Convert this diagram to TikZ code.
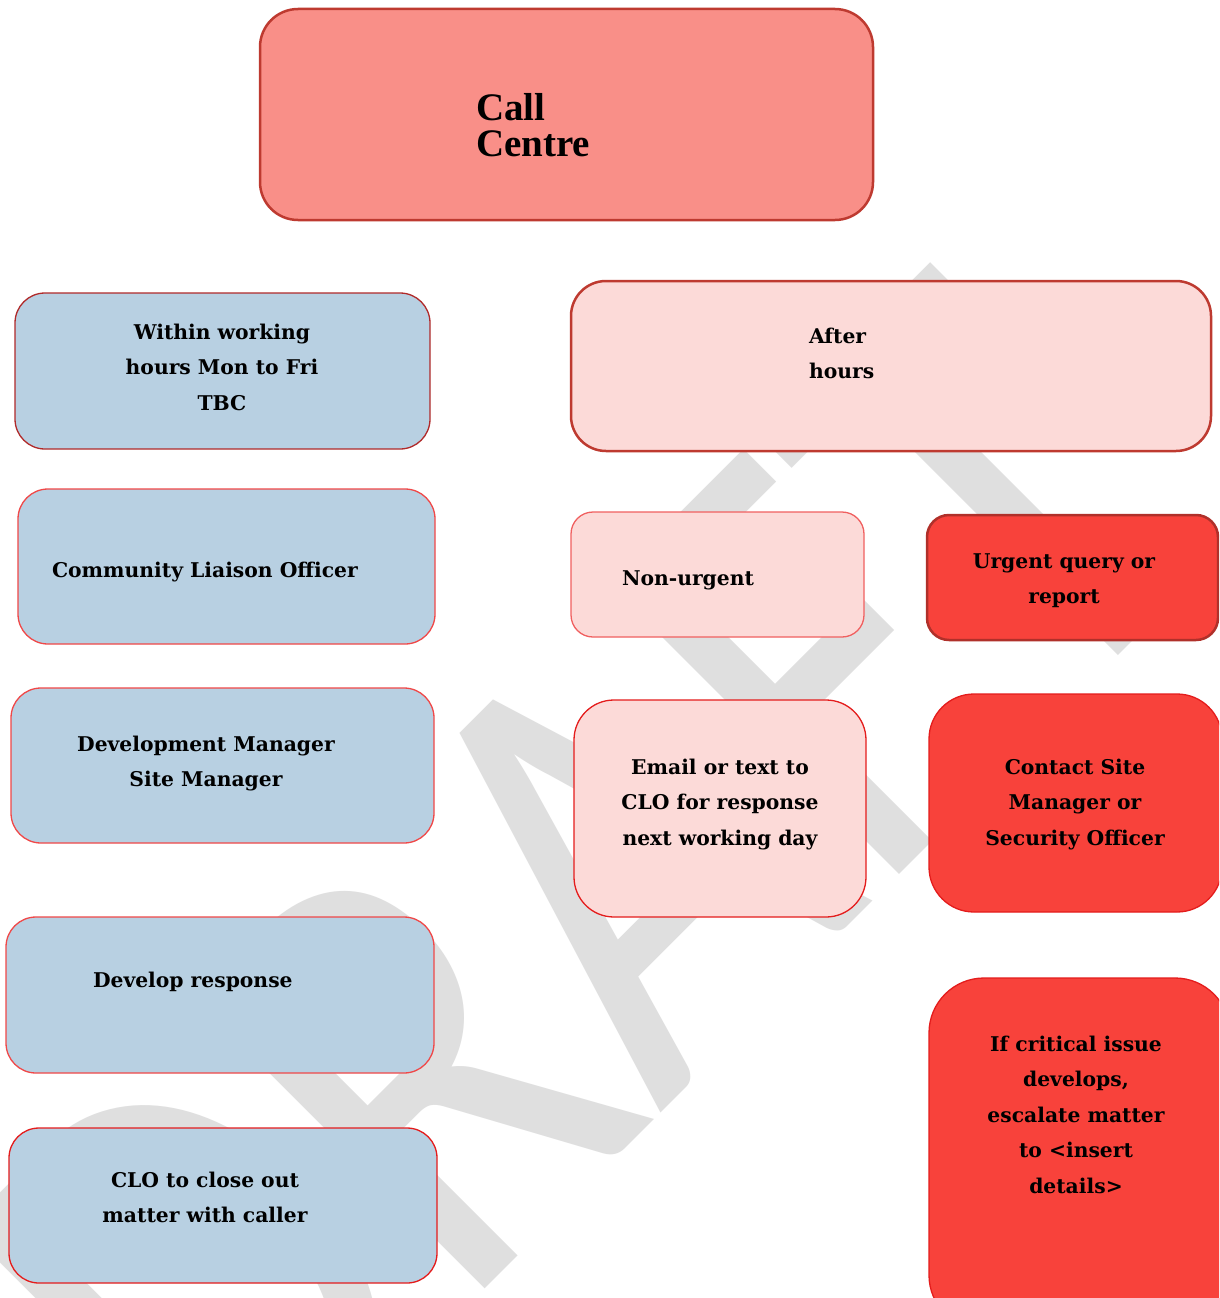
\documentclass[tikz,border=0pt]{standalone}
\usepackage{fontspec}
\setmainfont{DejaVu Serif}
\newfontfamily\wmfont{Carlito}
\newfontfamily\ccfont{Liberation Serif}
\definecolor{ccfill}{HTML}{F98F88}
\definecolor{ccdraw}{HTML}{BE3A30}
\definecolor{bluefill}{HTML}{B8D0E2}
\definecolor{redthin}{HTML}{F04848}
\definecolor{darkthin}{HTML}{B02A2A}
\definecolor{pinkfill}{HTML}{FCDAD8}
\definecolor{pinkthin}{HTML}{F06060}
\definecolor{redfill}{HTML}{F8423B}
\definecolor{reddark}{HTML}{B0302A}
\definecolor{redline}{HTML}{E41C1C}
\definecolor{wmgrey}{HTML}{DFDFDF}
\newcommand\Lc[1]{\begin{tabular}[t]{@{}c@{}}#1\end{tabular}}
\newcommand\Ll[1]{\begin{tabular}[t]{@{}l@{}}#1\end{tabular}}
\begin{document}
\begin{tikzpicture}[x=1pt,y=-1pt,
  box/.style={rectangle, inner sep=0pt, outer sep=0pt},
  ccbox/.style={box, fill=ccfill, draw=ccdraw, line width=2.5pt, rounded corners=38pt},
  bluebox/.style={box, fill=bluefill, draw=redthin, line width=1.3pt, rounded corners=30pt},
  pinkbox/.style={box, fill=pinkfill, draw=pinkthin, line width=1.3pt, rounded corners=22pt},
  redbox/.style={box, fill=redfill, draw=redline, line width=1.3pt, rounded corners=45pt},
  txt/.style={inner sep=0pt, outer sep=0pt, anchor=base, font=\bfseries\fontsize{20.3}{35.5}\selectfont},
  txtl/.style={txt, anchor=base west},
  wm/.style={inner sep=0pt, outer sep=0pt, anchor=base, text=wmgrey, font=\wmfont\fontsize{640}{640}\selectfont}
]
\useasboundingbox (0,0) rectangle (1219,1298);
\fill[white] (0,0) rectangle (1219,1298);
\begin{scope}
\clip (0,0) rectangle (1219,1298);
% watermark
\node[wm, rotate=45, xscale=0.82] (wmk) at (728,1046) {DRAFT};
% call centre
\node[ccbox, minimum width=613pt, minimum height=211pt] (callc) at (566.5,114.5) {};
\node[txtl, font=\ccfont\bfseries\fontsize{39}{36}\selectfont] (callct) at (476,120) {\Ll{Call\\Centre}};
% left column
\node[bluebox, draw=darkthin, minimum width=415pt, minimum height=156pt] (within) at (222.5,371) {};
\node[txt] (withint) at (222,339) {\Lc{Within working\\hours Mon to Fri\\TBC}};
\node[bluebox, minimum width=417pt, minimum height=155pt] (clo) at (226.5,566.5) {};
\node[txtl] (clot) at (52,577) {Community Liaison Officer};
\node[bluebox, minimum width=423pt, minimum height=155pt] (devm) at (222.5,765.5) {};
\node[txt] (devmt) at (206,751) {\Lc{Development Manager\\Site Manager}};
\node[bluebox, minimum width=428pt, minimum height=156pt] (devr) at (220,995) {};
\node[txtl] (devrt) at (93,987) {Develop response};
\node[bluebox, draw=redline, minimum width=428pt, minimum height=155pt] (close) at (223,1205.5) {};
\node[txt] (closet) at (205,1187) {\Lc{CLO to close out\\matter with caller}};
% right side
\node[pinkbox, draw=ccdraw, line width=2.5pt, rounded corners=35pt, minimum width=640pt, minimum height=170pt] (after) at (891,366) {};
\node[txtl] (aftert) at (809,343) {\Ll{After\\hours}};
\node[pinkbox, minimum width=293pt, minimum height=125pt] (nonurg) at (717.5,574.5) {};
\node[txtl] (nonurgt) at (622,585) {Non-urgent};
\node[redbox, draw=reddark, line width=2.5pt, rounded corners=22pt, minimum width=291pt, minimum height=125pt] (urgent) at (1072.5,577.5) {};
\node[txt] (urgentt) at (1064,568) {\Lc{Urgent query or\\report}};
\node[pinkbox, draw=redline, rounded corners=40pt, minimum width=292pt, minimum height=217pt] (email) at (720,808.5) {};
\node[txt] (emailt) at (720,774) {\Lc{Email or text to\\CLO for response\\next working day}};
\node[redbox, minimum width=293pt, minimum height=218pt] (contact) at (1075.5,803) {};
\node[txt] (contactt) at (1075,774) {\Lc{Contact Site\\Manager or\\Security Officer}};
\node[redbox, rounded corners=55pt, minimum width=301pt, minimum height=352pt] (crit) at (1079.5,1154) {};
\node[txt] (critt) at (1076,1051) {\Lc{If critical issue\\develops,\\escalate matter\\to <insert\\details>}};
\end{scope}
\end{tikzpicture}
\end{document}
